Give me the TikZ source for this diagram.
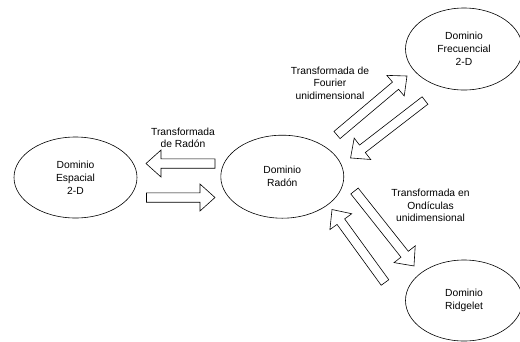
\documentclass[tikz,border=0pt]{standalone}
\usepackage{fontspec}
\setmainfont{Liberation Sans}
\usetikzlibrary{shapes.geometric,calc}

\tikzset{
  dominio/.style={draw,ellipse,line width=0.6pt,inner sep=0pt,align=center,font=\fontsize{10.3}{12.8}\selectfont},
  etiqueta/.style={inner sep=0pt,align=center,font=\fontsize{10.3}{12.6}\selectfont},
  flecha/.style={draw,fill=white,line width=0.6pt,line join=miter}
}
\newcommand{\flechabloque}[2]{%
  \path[flecha] let \p1=($(#2)-(#1)$), \n1={atan2(\y1,\x1)}, \n2={veclen(\x1,\y1)} in
    [shift={(#1)},rotate=\n1]
    (0,4.7) -- (\n2-15,4.7) -- (\n2-15,13.5) -- (\n2,0) -- (\n2-15,-13.5) -- (\n2-15,-4.7) -- (0,-4.7) -- cycle;}

\begin{document}
\begin{tikzpicture}[x=1pt,y=-1pt]
\path[use as bounding box] (0,0) rectangle (520,341);
\node[dominio,minimum width=123pt,minimum height=81pt] (espacial) at (75.5,177.5) {Dominio\\Espacial\\2-D};
\node[dominio,minimum width=123pt,minimum height=83pt] (radon) at (282.3,176.7) {Dominio\\Radón};
\node[dominio,minimum width=117pt,minimum height=82pt] (frec) at (464,49) {Dominio\\Frecuencial\\2-D};
\node[dominio,minimum width=117pt,minimum height=81pt] (ridge) at (464,300.5) {Dominio\\Ridgelet};
\coordinate (h1a) at (215,163.5);
\coordinate (h1b) at (146,163.5);
\coordinate (h2a) at (146.5,197.5);
\coordinate (h2b) at (215,197.5);
\coordinate (d1a) at (337,135);
\coordinate (d1b) at (407,76);
\coordinate (d2a) at (425,100.5);
\coordinate (d2b) at (350.5,158);
\coordinate (d3a) at (354.5,191);
\coordinate (d3b) at (414,266);
\coordinate (d4a) at (385,282.5);
\coordinate (d4b) at (332,209.5);
\flechabloque{h1a}{h1b}
\flechabloque{h2a}{h2b}
\flechabloque{d1a}{d1b}
\flechabloque{d2a}{d2b}
\flechabloque{d3a}{d3b}
\flechabloque{d4a}{d4b}
\node[etiqueta] (lradon) at (183,138) {Transformada\\de Radón};
\node[etiqueta] (lfourier) at (330,83) {Transformada de\\Fourier\\unidimensional};
\node[etiqueta] (londas) at (430.5,205.5) {Transformada en\\Ondículas\\unidimensional};
\end{tikzpicture}
\end{document}
